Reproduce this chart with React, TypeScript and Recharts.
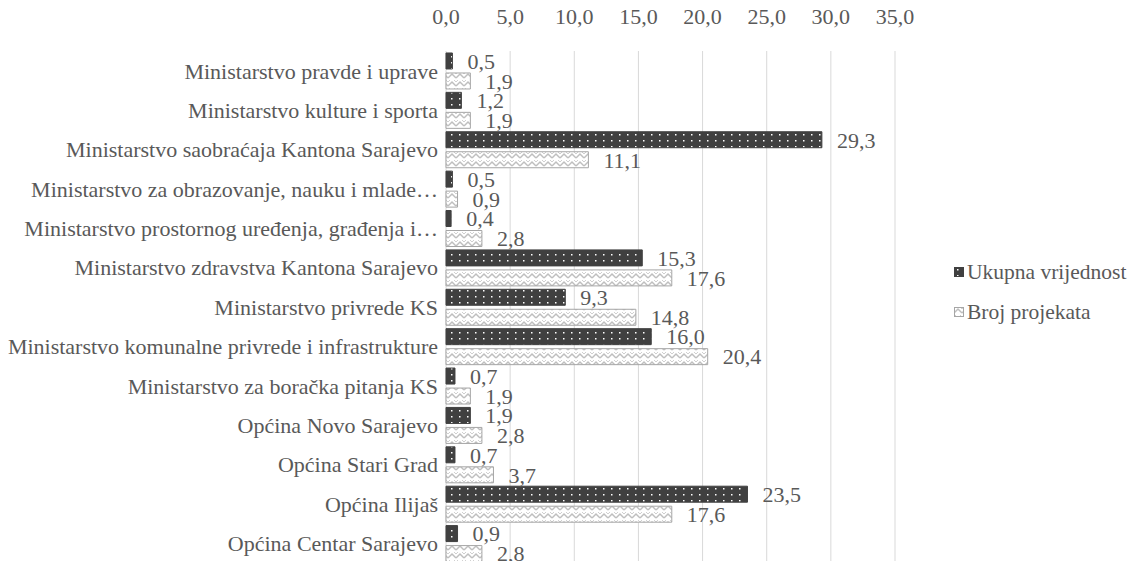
import { BarChart, Bar, XAxis, YAxis, CartesianGrid, LabelList } from 'recharts';

const categories = [
  'Ministarstvo pravde i uprave',
  'Ministarstvo kulture i sporta',
  'Ministarstvo saobraćaja Kantona Sarajevo',
  'Ministarstvo za obrazovanje, nauku i mlade…',
  'Ministarstvo prostornog uređenja, građenja i…',
  'Ministarstvo zdravstva Kantona Sarajevo',
  'Ministarstvo privrede KS',
  'Ministarstvo komunalne privrede i infrastrukture',
  'Ministarstvo za boračka pitanja KS',
  'Općina Novo Sarajevo',
  'Općina Stari Grad',
  'Općina Ilijaš',
  'Općina Centar Sarajevo',
];
const ukupnaVrijednost = [0.5, 1.2, 29.3, 0.5, 0.4, 15.3, 9.3, 16.0, 0.7, 1.9, 0.7, 23.5, 0.9];
const brojProjekata = [1.9, 1.9, 11.1, 0.9, 2.8, 17.6, 14.8, 20.4, 1.9, 2.8, 3.7, 17.6, 2.8];
const xTicks = [0, 5, 10, 15, 20, 25, 30, 35];

const data = categories.map((name, i) => ({
  name,
  ukupna: ukupnaVrijednost[i],
  broj: brojProjekata[i],
}));

const fmt = (v: number) => Number(v).toFixed(1).replace('.', ',');
const FONT = 'Liberation Serif';
const TEXT = '#595959';
const SIZE = 22;

function LegendBox() {
  const items = [
    { label: 'Ukupna vrijednost', fill: 'url(#dots)', stroke: '#404040' },
    { label: 'Broj projekata', fill: 'url(#zigzag)', stroke: '#a6a6a6' },
  ];
  return (
    <div style={{ position: 'absolute', left: 954, top: 252, fontFamily: FONT, fontSize: 21.5, color: TEXT }}>
      {items.map((it) => (
        <div key={it.label} style={{ display: 'flex', alignItems: 'center', height: 40 }}>
          <svg width={11} height={11} style={{ marginRight: 2 }}>
            <rect x={0.5} y={0.5} width={9} height={9} fill={it.fill} stroke={it.stroke} />
          </svg>
          <span>{it.label}</span>
        </div>
      ))}
    </div>
  );
}

export default function App() {
  return (
    <div style={{ position: 'absolute', left: 0, top: 0, width: 1129, height: 561, overflow: 'hidden', background: '#fff', fontFamily: FONT }}>
      <BarChart
        width={1129}
        height={563}
        data={data}
        layout="vertical"
        margin={{ top: 21, right: 234, left: 0, bottom: 0 }}
        barCategoryGap="5%"
        barGap={4}
        style={{ fontFamily: FONT }}
      >
        <defs>
          <pattern id="dots" width="8" height="6" patternUnits="userSpaceOnUse">
            <rect width="8" height="6" fill="#404040" />
            <rect x="3" y="2" width="1.5" height="1.5" fill="#ffffff" />
          </pattern>
          <pattern id="zigzag" width="8" height="8" patternUnits="userSpaceOnUse">
            <rect width="8" height="8" fill="#ffffff" />
            <path d="M0 6 L4 2 L8 6" stroke="#bfbfbf" strokeWidth="1.5" fill="none" />
            <path d="M0 2 L2 0 M6 0 L8 2" stroke="#d0d0d0" strokeWidth="1" fill="none" />
          </pattern>
        </defs>
        <CartesianGrid horizontal={false} stroke="#d9d9d9" />
        <XAxis
          type="number"
          orientation="top"
          domain={[0, 35]}
          ticks={xTicks}
          tickFormatter={fmt}
          axisLine={false}
          tickLine={false}
          height={30}
          tick={{ fill: TEXT, fontSize: SIZE, fontFamily: FONT, dy: -19 }}
        />
        <YAxis
          type="category"
          dataKey="name"
          width={446}
          axisLine={false}
          tickLine={false}
          interval={0}
          tick={{ fill: TEXT, fontSize: SIZE, fontFamily: FONT }}
        />
        <Bar dataKey="ukupna" name="Ukupna vrijednost" fill="url(#dots)" stroke="#404040" isAnimationActive={false}>
          <LabelList
            dataKey="ukupna"
            position="right"
            offset={15}
            formatter={(v: number) => fmt(v)}
            style={{ fill: TEXT, fontSize: SIZE, fontFamily: FONT }}
          />
        </Bar>
        <Bar dataKey="broj" name="Broj projekata" fill="url(#zigzag)" stroke="#a6a6a6" isAnimationActive={false}>
          <LabelList
            dataKey="broj"
            position="right"
            offset={15}
            formatter={(v: number) => fmt(v)}
            style={{ fill: TEXT, fontSize: SIZE, fontFamily: FONT }}
          />
        </Bar>
      </BarChart>
      <LegendBox />
    </div>
  );
}
